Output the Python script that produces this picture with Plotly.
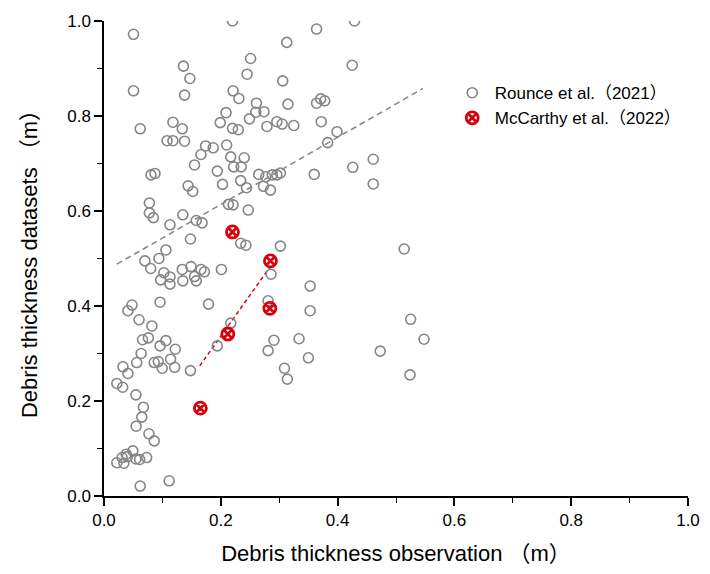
import plotly.graph_objects as go

# Rounce et al. (2021) points: observation (x) vs dataset (y)
rounce_x = [0.0505, 0.220, 0.251, 0.245, 0.136, 0.147, 0.0505, 0.138, 0.221, 0.231,
            0.261, 0.260, 0.274, 0.209, 0.199, 0.249, 0.279, 0.062, 0.118, 0.134,
            0.220, 0.230, 0.108, 0.118, 0.138, 0.174, 0.187, 0.210, 0.166, 0.217,
            0.240, 0.155, 0.194, 0.222, 0.235, 0.265, 0.277, 0.0805, 0.0873, 0.234,
            0.364, 0.429, 0.313, 0.425, 0.306, 0.315, 0.364, 0.371, 0.378, 0.372,
            0.296, 0.305, 0.325, 0.399, 0.383, 0.426, 0.461, 0.360, 0.288, 0.296,
            0.302, 0.461,
            0.203, 0.244, 0.273, 0.285, 0.144, 0.152, 0.0777, 0.0777, 0.0845, 0.113,
            0.135, 0.158, 0.168, 0.213, 0.221, 0.247, 0.148, 0.234, 0.243, 0.106,
            0.094, 0.070, 0.080, 0.1025, 0.134, 0.149, 0.166, 0.172, 0.201, 0.097,
            0.113, 0.113, 0.135, 0.155, 0.158, 0.096, 0.179, 0.048, 0.041, 0.060,
            0.082, 0.217, 0.066, 0.076, 0.106,
            0.096, 0.122, 0.0636, 0.056, 0.086, 0.093, 0.0997, 0.114, 0.121, 0.0325,
            0.041, 0.148, 0.194, 0.281, 0.022, 0.032, 0.0546, 0.0675, 0.0647, 0.055,
            0.077, 0.086, 0.0495, 0.038, 0.031, 0.040, 0.022, 0.034, 0.0546, 0.061,
            0.073, 0.062, 0.1115,
            0.302, 0.514, 0.286, 0.353, 0.281, 0.353, 0.525,
            0.291, 0.334, 0.350, 0.309, 0.314, 0.473, 0.548, 0.524]
rounce_y = [0.972, 1.000, 0.921, 0.888, 0.905, 0.879, 0.853, 0.844, 0.853, 0.837,
            0.827, 0.808, 0.809, 0.807, 0.786, 0.794, 0.778, 0.773, 0.787, 0.773,
            0.774, 0.771, 0.748, 0.748, 0.747, 0.737, 0.733, 0.739, 0.719, 0.714,
            0.712, 0.697, 0.684, 0.693, 0.693, 0.677, 0.672, 0.676, 0.679, 0.664,
            0.983, 1.000, 0.955, 0.907, 0.874, 0.825, 0.827, 0.836, 0.832, 0.788,
            0.788, 0.783, 0.780, 0.767, 0.744, 0.692, 0.709, 0.677, 0.676, 0.676,
            0.680, 0.657,
            0.656, 0.649, 0.652, 0.644, 0.653, 0.641, 0.617, 0.596, 0.586, 0.571,
            0.592, 0.580, 0.575, 0.614, 0.613, 0.602, 0.541, 0.532, 0.528, 0.518,
            0.500, 0.495, 0.479, 0.470, 0.477, 0.483, 0.477, 0.472, 0.477, 0.455,
            0.461, 0.446, 0.453, 0.462, 0.453, 0.408, 0.404, 0.402, 0.390, 0.371,
            0.358, 0.364, 0.329, 0.333, 0.327,
            0.316, 0.309, 0.300, 0.281, 0.281, 0.283, 0.269, 0.288, 0.271, 0.272,
            0.258, 0.264, 0.316, 0.306, 0.237, 0.229, 0.213, 0.187, 0.166, 0.147,
            0.131, 0.116, 0.095, 0.088, 0.081, 0.083, 0.070, 0.069, 0.078, 0.077,
            0.081, 0.021, 0.032,
            0.526, 0.520, 0.467, 0.442, 0.411, 0.390, 0.372,
            0.328, 0.331, 0.291, 0.269, 0.246, 0.305, 0.330, 0.255]

# McCarthy et al. (2022) points
mccarthy_x = [0.165, 0.212, 0.220, 0.284, 0.285]
mccarthy_y = [0.185, 0.341, 0.556, 0.395, 0.495]

# Fitted trend lines (endpoints)
rounce_fit_x = [0.022, 0.546]
rounce_fit_y = [0.488, 0.858]
mccarthy_fit_x = [0.164, 0.283]
mccarthy_fit_y = [0.274, 0.480]

names = ["Rounce et al.（2021）", "McCarthy et al.（2022）"]
x_title = "Debris thickness observation （m）"
y_title = "Debris thickness datasets （m）"

FONT = "Liberation Sans, Arial, Noto Sans CJK SC, sans-serif"
GRAY = "#858585"
RED = "#d9000d"

fig = go.Figure()
fig.add_trace(go.Scatter(x=rounce_fit_x, y=rounce_fit_y, mode="lines",
                         line=dict(color=GRAY, width=1.5, dash="6px,4px"),
                         showlegend=False, hoverinfo="skip"))
fig.add_trace(go.Scatter(x=mccarthy_fit_x, y=mccarthy_fit_y, mode="lines",
                         line=dict(color=RED, width=1.5, dash="4px,3px"),
                         showlegend=False, hoverinfo="skip"))
fig.add_trace(go.Scatter(x=rounce_x, y=rounce_y, mode="markers", name=names[0],
                         marker=dict(symbol="circle-open", size=10,
                                     color=GRAY, line=dict(width=1.6, color=GRAY))))
fig.add_trace(go.Scatter(x=mccarthy_x, y=mccarthy_y, mode="markers", name=names[1],
                         marker=dict(symbol="circle-x-open", size=12,
                                     color=RED, line=dict(width=2.8, color=RED))))

axis_common = dict(
    range=[0, 1], dtick=0.2, tickformat=".1f",
    showgrid=False, zeroline=False,
    showline=True, linecolor="black", linewidth=1.5,
    ticks="outside", ticklen=8, tickwidth=1.5, tickcolor="black",
    minor=dict(dtick=0.1, ticks="outside", ticklen=5, tickwidth=1.2, tickcolor="black"),
    tickfont=dict(family=FONT, size=17, color="black"),
    mirror=False, automargin=False, ticklabeloverflow="allow",
)
fig.update_xaxes(**axis_common,
                 title=dict(text=x_title, font=dict(family=FONT, size=22, color="black"),
                            standoff=16))
fig.update_yaxes(**axis_common,
                 title=dict(text=y_title, font=dict(family=FONT, size=22, color="black"),
                            standoff=24))

# page body has an 8px margin on every side, so the figure is sized to fit inside it
fig.update_layout(
    width=694, height=558,
    margin=dict(l=96, r=14, t=13, b=70),
    plot_bgcolor="white", paper_bgcolor="white",
    font=dict(family=FONT, color="black"),
    legend=dict(x=0.592, y=0.886, xanchor="left", yanchor="top",
                bgcolor="rgba(0,0,0,0)", borderwidth=0,
                font=dict(family=FONT, size=17, color="black"),
                itemwidth=35, tracegroupgap=2),
)

fig.write_html("out.html")
